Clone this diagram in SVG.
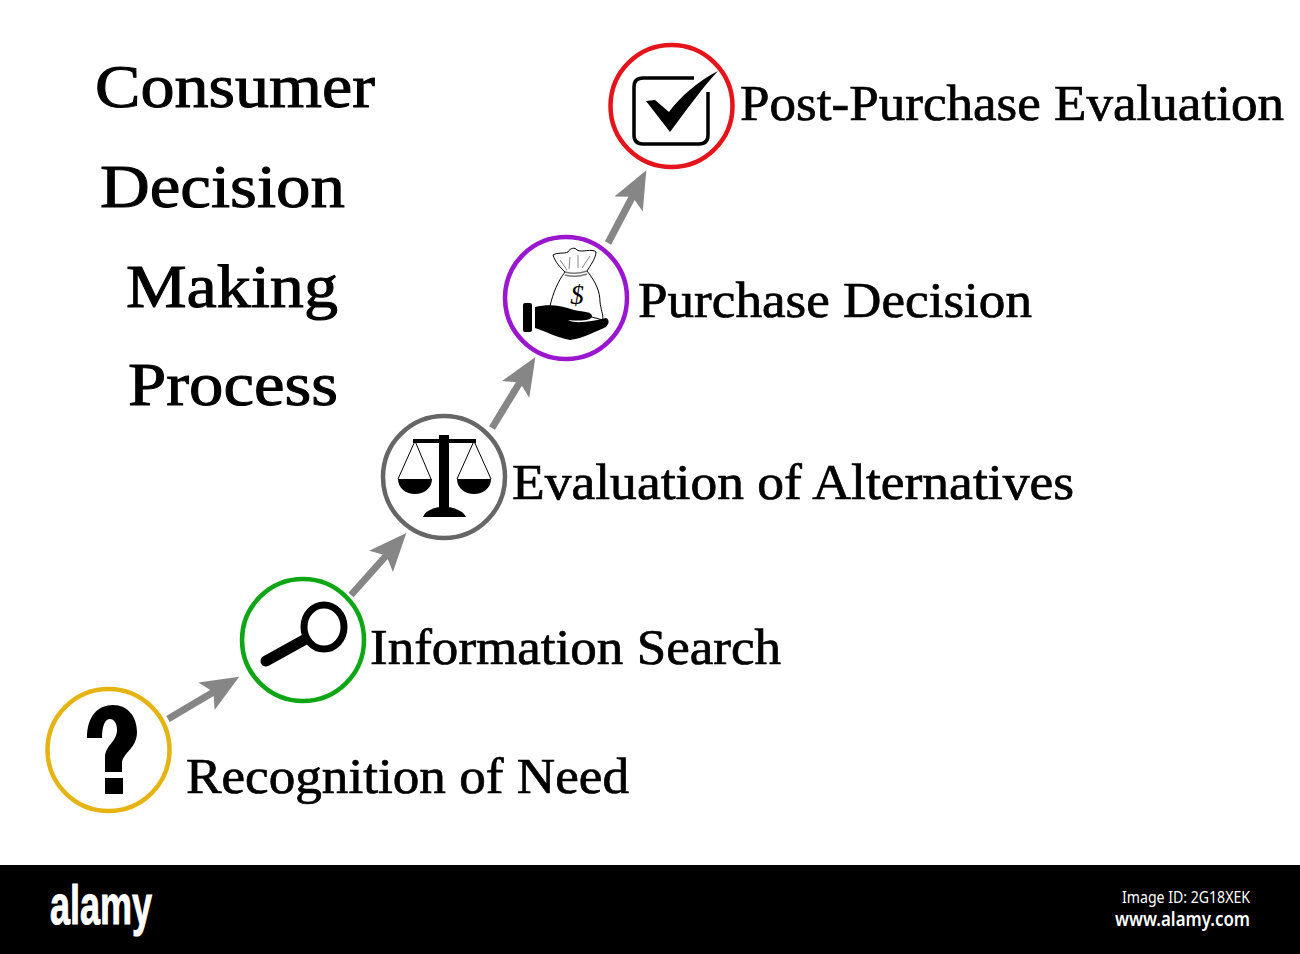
<svg xmlns="http://www.w3.org/2000/svg" width="1300" height="954" viewBox="0 0 1300 954">
<defs>
<marker id="ah" markerUnits="userSpaceOnUse" markerWidth="44" markerHeight="40" refX="18" refY="20" orient="auto"><path d="M0 4L38 20L0 36L8 20Z" fill="#868686"/></marker>
</defs>
<style>
.t{font-family:"Liberation Serif","Times New Roman",serif;fill:#000;stroke:#000}
.h{font-size:62px;stroke-width:1}.l{font-size:50px;stroke-width:.7}
.c{fill:#fff;stroke-width:4.500}
.a{fill:none;stroke:#868686;stroke-width:7;marker-end:url(#ah)}
.b{fill:#000}
.s{fill:#fff;stroke:#000;stroke-width:1}
.f{fill:#fff}
.n{font-family:"Noto Sans","DejaVu Sans",sans-serif}
</style>
<rect width="1300" height="954" fill="#fff"/>
<g id="title">
<text class="t h" x="95" y="107" textLength="280" lengthAdjust="spacingAndGlyphs">Consumer</text>
<text class="t h" x="100" y="207" textLength="245" lengthAdjust="spacingAndGlyphs">Decision</text>
<text class="t h" x="126" y="307" textLength="212" lengthAdjust="spacingAndGlyphs">Making</text>
<text class="t h" x="128" y="405" textLength="210" lengthAdjust="spacingAndGlyphs">Process</text>
</g>
<g id="connectors">
<path class="a" d="M168 719L222 687"/>
<path class="a" d="M351 595L393 548"/>
<path class="a" d="M492 428L525 374"/>
<path class="a" d="M608 243L637 188"/>
</g>
<g id="node-need">
<circle class="c" cx="108.500" cy="750" r="61" stroke="#e6b412"/>
<path class="b" d="M87 738C87 716 98 705 113 705C128 705 137 717 137 732C137 748 124 752 122 762V772H105V758C105 745 117 742 117 730C117 723 114 719 110 719C105 719 102 726 102 738Z"/>
<rect class="b" x="105" y="778" width="18" height="16"/>
<text class="t l" x="186" y="793" textLength="443" lengthAdjust="spacingAndGlyphs">Recognition of Need</text>
</g>
<g id="node-search">
<circle class="c" cx="303" cy="640" r="61" stroke="#0fa616"/>
<ellipse cx="324" cy="627" rx="20" ry="22" fill="none" stroke="#000" stroke-width="7"/>
<path d="M266 661L304 640" fill="none" stroke="#000" stroke-width="11" stroke-linecap="round"/>
<text class="t l" x="370" y="664" textLength="411" lengthAdjust="spacingAndGlyphs">Information Search</text>
</g>
<g id="node-alternatives">
<circle class="c" cx="444" cy="477" r="61" stroke="#666"/>
<path class="b" d="M439 435H449V508H439ZM413 439H476V443H413ZM423 517Q425 510 439 507H449Q463 510 466 517Z"/>
<path d="M415 441L398 479M415 441L431 479M474 441L457 479M474 441L491 479" fill="none" stroke="#000" stroke-width="1"/>
<path class="b" d="M398 479H432C432 488 424 494 415 494C406 494 398 488 398 479ZM457 479H491C491 488 483 494 474 494C465 494 457 488 457 479Z"/>
<text class="t l" x="512" y="499" textLength="562" lengthAdjust="spacingAndGlyphs">Evaluation of Alternatives</text>
</g>
<g id="node-purchase">
<circle class="c" cx="566" cy="298" r="61" stroke="#9a16cf"/>
<path class="s" d="M565 272C560 267 555 262 553 255C558 252 564 254 568 252C570 248 575 247 577 250C582 253 592 248 596 252C596 258 590 266 587 271C596 282 600 292 600 302C601 310 603 314 603 320L550 306C553 293 558 281 565 272Z"/>
<path d="M565 272Q576 275 587 271M565 275Q576 278 587 274" fill="none" stroke="#777" stroke-width="1.500"/>
<path d="M570 257L569 269M578 255L578 268M560 260L567 270M590 256L582 268" fill="none" stroke="#555" stroke-width=".7"/>
<text x="577" y="304" font-family="Liberation Serif,serif" font-size="27" font-style="italic" text-anchor="middle" fill="#000">$</text>
<rect class="b" x="523" y="303" width="9" height="29" rx="2"/>
<path class="b" d="M535 307C548 304 560 305 574 310C585 312 592 312 592 316C592 321 580 321 568 320C575 324 590 322 606 318C610 320 609 324 606 327C596 331 585 338 570 340C555 337 545 331 535 328Z"/>
<text class="t l" x="638" y="317" textLength="394" lengthAdjust="spacingAndGlyphs">Purchase Decision</text>
</g>
<g id="node-evaluation">
<circle class="c" cx="671.500" cy="106" r="61" stroke="#e5141b"/>
<path d="M694 78H643Q634 78 634 87V135Q634 144 643 144H699Q708 144 708 135V92" fill="none" stroke="#000" stroke-width="3.500"/>
<path class="b" d="M646 101L655 100L669 112C680 97 698 81 718 71C703 87 687 109 670 132Z"/>
<text class="t l" x="740" y="120" textLength="544" lengthAdjust="spacingAndGlyphs">Post-Purchase Evaluation</text>
</g>
<g id="footer">
<rect x="0" y="865" width="1300" height="89" fill="#000"/>
<text class="f" x="50" y="924" font-family="Liberation Sans,Arial,sans-serif" font-size="56" font-weight="700" stroke="#fff" stroke-width="1" textLength="102" lengthAdjust="spacingAndGlyphs">alamy</text>
<text class="f n" x="1122" y="903" font-size="17" textLength="128" lengthAdjust="spacingAndGlyphs">Image ID: 2G18XEK</text>
<text class="f n" x="1115" y="926" font-size="19" font-weight="600" textLength="135" lengthAdjust="spacingAndGlyphs">www.alamy.com</text>
</g>
</svg>
